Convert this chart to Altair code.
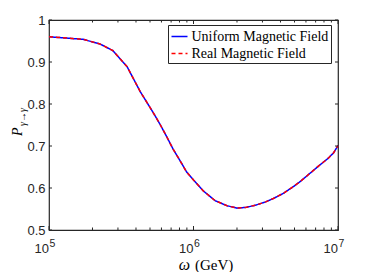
import altair as alt
import pandas as pd

# ---- data ----
omega = [1.0e5, 1.32e5, 1.72e5, 2.25e5, 2.77e5, 3.47e5, 4.27e5, 5.25e5, 5.86e5,
         6.53e5, 7.24e5, 8.07e5, 8.97e5, 1.0e6, 1.17e6, 1.41e6, 1.70e6, 2.0e6,
         2.33e6, 2.74e6, 3.16e6, 3.57e6, 4.17e6, 4.90e6, 5.46e6, 6.40e6, 7.50e6,
         8.57e6, 9.33e6, 1.0e7]
p_uniform = [0.960, 0.957, 0.954, 0.943, 0.927, 0.889, 0.830, 0.780, 0.752,
             0.722, 0.692, 0.665, 0.638, 0.619, 0.593, 0.570, 0.558, 0.552,
             0.554, 0.560, 0.567, 0.575, 0.587, 0.603, 0.615, 0.635, 0.655,
             0.671, 0.684, 0.701]
p_real = [0.960, 0.957, 0.954, 0.943, 0.927, 0.889, 0.830, 0.780, 0.752,
          0.722, 0.692, 0.665, 0.638, 0.619, 0.593, 0.570, 0.558, 0.552,
          0.554, 0.560, 0.567, 0.575, 0.587, 0.603, 0.615, 0.635, 0.655,
          0.671, 0.684, 0.701]
series_names = ["Uniform Magnetic Field", "Real Magnetic Field"]
y_ticks = [0.5, 0.6, 0.7, 0.8, 0.9, 1.0]
x_major = [1e5, 1e6, 1e7]
x_exp = ["5", "6", "7"]
x_minor = [2e5, 3e5, 4e5, 5e5, 6e5, 7e5, 8e5, 9e5,
           2e6, 3e6, 4e6, 5e6, 6e6, 7e6, 8e6, 9e6]

W, H = 289, 210
AX = "#262626"
SERIF = "Liberation Serif"
SANS = "Liberation Sans"

df_u = pd.DataFrame({"omega": omega, "P": p_uniform, "series": series_names[0]})
df_r = pd.DataFrame({"omega": omega, "P": p_real, "series": series_names[1]})
df_major = pd.DataFrame({"omega": x_major, "exp": x_exp})
df_minor = pd.DataFrame({"omega": x_minor})
df_y = pd.DataFrame({"P": y_ticks})
df_one = pd.DataFrame({"k": [0]})

xscale = alt.Scale(type="log", domain=[1e5, 1e7], nice=False)
yscale = alt.Scale(domain=[0.5, 1.0], nice=False, zero=False)

def make_legend():
    return alt.Legend(title=None, orient="none", legendX=119, legendY=5,
                      strokeColor=AX, fillColor="white", padding=2.5,
                      symbolType="stroke", symbolSize=256,
                      symbolStrokeWidth=1.5, labelFont=SERIF,
                      labelFontSize=14, labelColor="black",
                      labelOffset=3, rowPadding=1, labelLimit=400)

color = alt.Color("series:N",
                  scale=alt.Scale(domain=series_names, range=["#0000ff", "#ff0000"]),
                  legend=make_legend())
dash = alt.StrokeDash("series:N",
                      scale=alt.Scale(domain=series_names, range=[[1, 0], [4, 3]]),
                      legend=make_legend())

yaxis = alt.Axis(values=y_ticks, ticks=False, domain=False, grid=False,
                 labelFont=SANS, labelFontSize=13, labelColor=AX,
                 labelPadding=4, title=None,
                 labelExpr="datum.value == 1 ? '1' : format(datum.value, '.1f')")

blue = alt.Chart(df_u).mark_line(strokeWidth=1.5).encode(
    x=alt.X("omega:Q", scale=xscale, axis=None),
    y=alt.Y("P:Q", scale=yscale, axis=yaxis),
    color=color, strokeDash=dash)
red = alt.Chart(df_r).mark_line(strokeWidth=1.5).encode(
    x=alt.X("omega:Q", scale=xscale, axis=None),
    y=alt.Y("P:Q", scale=yscale, axis=yaxis),
    color=color, strokeDash=dash)

tick_major_b = alt.Chart(df_major).mark_rule(color=AX, strokeWidth=1).encode(
    x="omega:Q", y=alt.value(H), y2=alt.value(H - 4))
tick_major_t = alt.Chart(df_major).mark_rule(color=AX, strokeWidth=1).encode(
    x="omega:Q", y=alt.value(0), y2=alt.value(4))
tick_minor_b = alt.Chart(df_minor).mark_rule(color=AX, strokeWidth=1).encode(
    x="omega:Q", y=alt.value(H), y2=alt.value(H - 2.5))
tick_minor_t = alt.Chart(df_minor).mark_rule(color=AX, strokeWidth=1).encode(
    x="omega:Q", y=alt.value(0), y2=alt.value(2.5))
tick_y_l = alt.Chart(df_y).mark_rule(color=AX, strokeWidth=1).encode(
    y="P:Q", x=alt.value(0), x2=alt.value(3))
tick_y_r = alt.Chart(df_y).mark_rule(color=AX, strokeWidth=1).encode(
    y="P:Q", x=alt.value(W), x2=alt.value(W - 3))

lab_base = alt.Chart(df_major).mark_text(
    font=SANS, fontSize=13, color=AX, align="right", baseline="alphabetic"
).encode(x="omega:Q", y=alt.value(H + 23), text=alt.value("10"))
lab_exp = alt.Chart(df_major).mark_text(
    font=SANS, fontSize=10.5, color=AX, align="left", baseline="alphabetic",
    dx=0.5).encode(x="omega:Q", y=alt.value(H + 17), text="exp:N")

xt_omega = alt.Chart(df_one).mark_text(
    font=SERIF, fontSize=16, fontStyle="italic", color="black",
    align="right", baseline="alphabetic").encode(
    x=alt.value(141), y=alt.value(H + 40), text=alt.value("ω"))
xt_gev = alt.Chart(df_one).mark_text(
    font=SERIF, fontSize=15, color="black",
    align="left", baseline="alphabetic").encode(
    x=alt.value(146), y=alt.value(H + 40), text=alt.value("(GeV)"))

yt_p = alt.Chart(df_one).mark_text(
    font=SERIF, fontSize=14, fontStyle="italic", color="black",
    align="left", baseline="alphabetic", angle=270).encode(
    x=alt.value(-27), y=alt.value(116), text=alt.value("P"))
yt_sub = alt.Chart(df_one).mark_text(
    font=SERIF, fontSize=10, fontStyle="italic", color="black",
    align="left", baseline="alphabetic", angle=270).encode(
    x=alt.value(-23), y=alt.value(106), text=alt.value("γ→γ"))

chart = alt.layer(
    blue, red,
    tick_major_b, tick_major_t, tick_minor_b, tick_minor_t, tick_y_l, tick_y_r,
    lab_base, lab_exp, xt_omega, xt_gev, yt_p, yt_sub
).properties(
    width=W, height=H,
    autosize=alt.AutoSizeParams(type="none"),
    padding={"left": 41, "top": 12, "right": 28, "bottom": 42},
    background="white"
).configure_view(
    stroke=AX, strokeWidth=1.2
).configure_legend(
    labelFont=SERIF, labelFontSize=14, labelColor="black"
)

chart.save("out.html", embed_options={"renderer": "svg", "actions": False})
